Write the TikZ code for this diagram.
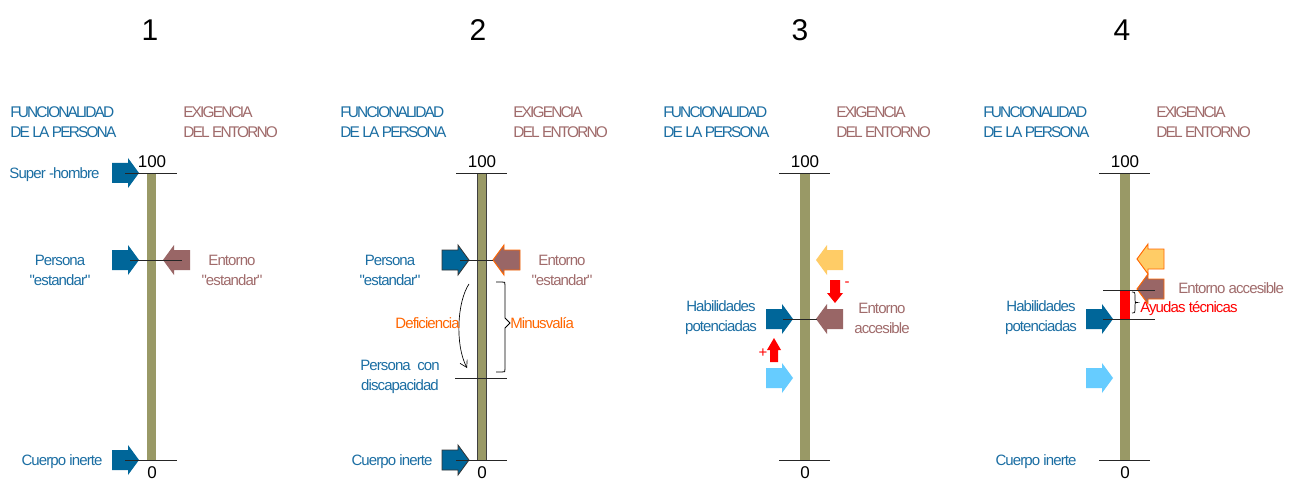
\documentclass[tikz,border=0pt]{standalone}
\usepackage{fontspec}
\setmainfont{Liberation Sans}
\newfontfamily\hfam[LetterSpace=-12]{Liberation Sans}
\newfontfamily\lfam[LetterSpace=-6]{Liberation Sans}
\usetikzlibrary{arrows.meta}
\definecolor{dblue}{HTML}{006699}
\definecolor{tblue}{HTML}{1B6EA3}
\definecolor{ebrown}{HTML}{996666}
\definecolor{tbrown}{HTML}{A06B6B}
\definecolor{barcol}{HTML}{999966}
\definecolor{dorange}{HTML}{FF6600}
\definecolor{lorange}{HTML}{FFCC66}
\definecolor{lblue}{HTML}{66CCFF}
\definecolor{pred}{HTML}{FF0000}
\newcommand\hf{\hfam\fontsize{11.6pt}{15pt}\selectfont}
\newcommand\lf{\lfam\fontsize{11.25pt}{15pt}\selectfont}
\tikzset{
  hdb/.style={font=\hf, text=tblue, anchor=west, inner sep=0},
  hdr/.style={font=\hf, text=tbrown, anchor=west, inner sep=0},
  lblb/.style={font=\lf, text=tblue, inner sep=0, align=center},
  lblr/.style={font=\lf, text=tbrown, inner sep=0, align=center},
  lblo/.style={font=\lf, text=dorange, inner sep=0},
  lblred/.style={font=\lf, text=pred, inner sep=0},
  num/.style={font=\fontsize{12.75pt}{15pt}\selectfont, inner sep=0},
  ttl/.style={font=\fontsize{22.5pt}{26pt}\selectfont, inner sep=0},
  tick/.style={draw=black!85, line width=0.7pt},
  rarr/.pic={\path[pic actions] (0,0) -- (-11,-15) -- (-11,-10) -- (-27,-10) -- (-27,10) -- (-11,10) -- (-11,15) -- cycle;},
  larr/.pic={\path[pic actions] (0,0) -- (11,-15) -- (11,-10) -- (27,-10) -- (27,10) -- (11,10) -- (11,15) -- cycle;},
}
\begin{document}
\begin{tikzpicture}[x=0.75pt,y=-0.75pt]
\useasboundingbox[fill=white] (0,0) rectangle (1292,481);
% titles
\node[ttl] (t1) at (150,30) {1};
\node[ttl] (t2) at (478,30) {2};
\node[ttl] (t3) at (800,30) {3};
\node[ttl] (t4) at (1122,30) {4};

% ---------------- panel 1
\begin{scope}[shift={(0,0)}]
\node[hdb] (p1h1) at (10,112.5) {FUNCIONALIDAD};
\node[hdb] (p1h2) at (10,132.5) {DE LA PERSONA};
\node[hdr] (p1h3) at (183,112.5) {EXIGENCIA};
\node[hdr] (p1h4) at (183,132.5) {DEL ENTORNO};
\fill[barcol] (146.5,173) rectangle (155.5,460);
\pic[fill=dblue] at (139,173) {rarr};
\pic[fill=dblue] at (139,260) {rarr};
\pic[fill=dblue] at (139,460) {rarr};
\pic[fill=ebrown] at (163,260) {larr};
\draw[tick] (125,173) -- (177,173);
\draw[tick] (125,460) -- (177,460);
\draw[tick] (130,260) -- (182,260);
\node[num] (p1n100) at (152,162) {100};
\node[num] (p1n0) at (152,473) {0};
\node[lblb] (p1l1) at (54.5,175) {Super -hombre};
\node[lblb] (p1l2) at (60,270) {Persona\\"estandar"};
\node[lblr] (p1l3) at (232,270) {Entorno\\"estandar"};
\node[lblb] (p1l4) at (62,462) {Cuerpo inerte};
\end{scope}

% ---------------- panel 2
\begin{scope}[shift={(330,0)}]
\node[hdb] (p2h1) at (10,112.5) {FUNCIONALIDAD};
\node[hdb] (p2h2) at (10,132.5) {DE LA PERSONA};
\node[hdr] (p2h3) at (183,112.5) {EXIGENCIA};
\node[hdr] (p2h4) at (183,132.5) {DEL ENTORNO};
\filldraw[fill=barcol, draw=black!75, line width=0.6pt] (147,173) rectangle (156,460);
\pic[fill=dblue, draw=black!80, line width=0.6pt] at (139,260) {rarr};
\pic[fill=dblue, draw=black!80, line width=0.6pt] at (139,460) {rarr};
\pic[fill=ebrown, draw=dorange, line width=0.7pt] at (163,260) {larr};
\draw[tick] (126,173) -- (177,173);
\draw[tick] (126,460) -- (177,460);
\draw[tick] (130,260) -- (163,260);
\draw[tick] (125,378) -- (177,378);
\draw[black, line width=0.5pt, -{Straight Barb[length=5pt,width=6pt]}] (139,284) .. controls (127,302) and (125,345) .. (137,368);
\draw[black, line width=0.6pt] (166,282) -- (172,282) .. controls (175,282) .. (175,285) -- (175,318) -- (180,323) -- (175,328) -- (175,369) .. controls (175,372) .. (172,372) -- (166,372);
\node[num] (p2n100) at (152,162) {100};
\node[num] (p2n0) at (152,473) {0};
\node[lblb] (p2l2) at (60,270) {Persona\\"estandar"};
\node[lblr] (p2l3) at (232,270) {Entorno\\"estandar"};
\node[lblo, anchor=east] (p2def) at (130,323) {Deficiencia};
\node[lblo, anchor=west] (p2min) at (180,323) {Minusvalía};
\node[lblb] (p2l5) at (70,377) {Persona\ \ con\\discapacidad};
\node[lblb] (p2l4) at (62,462) {Cuerpo inerte};
\end{scope}

% ---------------- panel 3
\begin{scope}[shift={(654,0)}]
\node[hdb] (p3h1) at (9,112.5) {FUNCIONALIDAD};
\node[hdb] (p3h2) at (9,132.5) {DE LA PERSONA};
\node[hdr] (p3h3) at (182,112.5) {EXIGENCIA};
\node[hdr] (p3h4) at (182,132.5) {DEL ENTORNO};
\fill[barcol] (145.5,173) rectangle (156,460);
\pic[fill=lorange] at (162,260) {larr};
\fill[pred] (176,280) -- (186,280) -- (186,293) -- (189,293) -- (181,303) -- (173,293) -- (176,293) -- cycle;
\node[lblred] (p3minus) at (193,284) {-};
\pic[fill=dblue] at (139,319) {rarr};
\pic[fill=ebrown] at (162,319) {larr};
\draw[tick] (129,319) -- (163,319);
\fill[pred] (120,338) -- (127,350) -- (124,350) -- (124,362) -- (116,362) -- (116,350) -- (113,350) -- cycle;
\node[lblred] (p3plus) at (109,353) {+};
\pic[fill=lblue] at (139,378) {rarr};
\draw[tick] (125,173) -- (176,173);
\draw[tick] (125,460) -- (176,460);
\node[num] (p3n100) at (151,162) {100};
\node[num] (p3n0) at (151,473) {0};
\node[lblb] (p3l1) at (67,318) {Habilidades\\potenciadas};
\node[lblr] (p3l2) at (228,318) {Entorno\\accesible};
\end{scope}

% ---------------- panel 4
\begin{scope}[shift={(974,0)}]
\node[hdb] (p4h1) at (9,112.5) {FUNCIONALIDAD};
\node[hdb] (p4h2) at (9,132.5) {DE LA PERSONA};
\node[hdr] (p4h3) at (182,112.5) {EXIGENCIA};
\node[hdr] (p4h4) at (182,132.5) {DEL ENTORNO};
\fill[barcol] (146,173) rectangle (156,460);
\fill[pred] (146,290) rectangle (156,319);
\pic[fill=lorange, draw=dorange, line width=0.7pt] at (163,259) {larr};
\pic[fill=ebrown, draw=dorange, line width=0.7pt] at (163,289) {larr};
\pic[fill=dblue] at (139,319) {rarr};
\pic[fill=lblue] at (139,378) {rarr};
\draw[tick] (129,290) -- (181,290);
\draw[tick] (129,319) -- (181,319);
\draw[tick] (125,173) -- (176,173);
\draw[tick] (125,460) -- (176,460);
\draw[black, line width=0.5pt] (158,292) .. controls (161,292) .. (161,295) -- (161,300) .. controls (161,302.5) .. (163.5,302.5) .. controls (161,302.5) .. (161,305) -- (161,310) .. controls (161,313) .. (158,313);
\node[num] (p4n100) at (151,162) {100};
\node[num] (p4n0) at (151,473) {0};
\node[lblb] (p4l1) at (67,318) {Habilidades\\potenciadas};
\node[lblr, anchor=west] (p4l2) at (204,288) {Entorno accesible};
\node[lblred, anchor=west] (p4l3) at (166,309) {Ayudas técnicas};
\node[lblb] (p4l4) at (62,462) {Cuerpo inerte};
\end{scope}
\end{tikzpicture}
\end{document}
